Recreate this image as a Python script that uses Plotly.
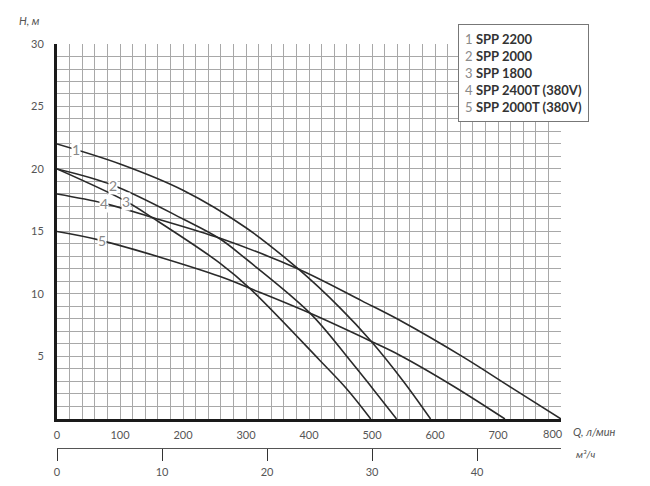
import numpy as np
import plotly.graph_objs as go

# pump curves, Q in l/min, H in m
names = ['SPP 2200', 'SPP 2000', 'SPP 1800', 'SPP 2400T (380V)', 'SPP 2000T (380V)']

q1 = [0, 100, 200, 300, 383, 450, 499, 550, 593]
h1 = [22, 20.4, 18.3, 15.3, 12.0, 8.85, 6.2, 3.0, 0]

q2 = [0, 89, 200, 259, 300, 402, 465, 500, 539]
h2 = [20, 18.7, 16.0, 14.4, 12.8, 8.45, 4.7, 2.5, 0]

q3 = [0, 110, 153, 259, 306, 417, 460, 498]
h3 = [20, 17.4, 16.05, 12.45, 10.45, 4.7, 2.4, 0]

q4 = [0, 75, 153, 259, 383, 484, 544, 645, 720, 800]
h4 = [18, 17.25, 16.1, 14.45, 12.0, 9.45, 7.9, 4.95, 2.55, 0]

q5 = [0, 71, 259, 306, 402, 499, 544, 630, 711]
h5 = [15, 14.27, 11.4, 10.45, 8.45, 6.2, 5.1, 2.6, 0]

curves = [(q1, h1), (q2, h2), (q3, h3), (q4, h4), (q5, h5)]
label_q = [30, 89, 110, 75, 71]

q_ticks = [0, 100, 200, 300, 400, 500, 600, 700]
m3_ticks = [0, 10, 20, 30, 40]
h_ticks = [5, 10, 15, 20, 25, 30]

font = 'Lato'
grey = '#555555'

data = [go.Scatter(x=q, y=h, mode='lines', line=dict(color='#2a2a2a', width=1.6, shape='spline'),
                   name=n, showlegend=False, hoverinfo='skip')
        for (q, h), n in zip(curves, names)]
# invisible trace to set up the m3/h axis
data.append(go.Scatter(x=[0, 48], y=[0, 0], xaxis='x2', yaxis='y', mode='markers',
                       marker=dict(opacity=0), showlegend=False, hoverinfo='skip'))

annotations = []
for i, ((q, h), lq) in enumerate(zip(curves, label_q)):
    annotations.append(dict(x=lq, y=float(np.interp(lq, q, h)), xref='x', yref='y', text=str(i + 1),
                            showarrow=False, bgcolor='white', borderpad=0,
                            font=dict(family=font, size=14, color='#888888')))

legend_text = '<br>'.join("<span style='color:#8a8a8a'>%d</span> <b>%s</b>" % (i + 1, n)
                          for i, n in enumerate(names))
annotations.append(dict(x=0.795, y=1.045, xref='paper', yref='paper', xanchor='left', yanchor='top',
                        text=legend_text, align='left', showarrow=False, bgcolor='white',
                        bordercolor='#777777', borderwidth=1, borderpad=6,
                        font=dict(family=font, size=13, color='#333333')))

annotations += [
    dict(x=800, y=0, xref='x', yref='y', text='800', showarrow=False, yanchor='top', xshift=-8, yshift=-6,
         font=dict(family=font, size=11, color=grey)),
    dict(x=1.02, y=0.14, xref='paper', yref='paper', text='<i>Q, л/мин</i>', showarrow=False,
         xanchor='left', yanchor='top', yshift=-4, font=dict(family=font, size=11, color=grey)),
    dict(x=1.025, y=0.06, xref='paper', yref='paper', text='<i>м³/ч</i>', showarrow=False,
         xanchor='left', yanchor='middle', font=dict(family=font, size=10, color=grey)),
    dict(x=-0.055, y=1.055, xref='paper', yref='paper', text='<i>H, м</i>', showarrow=False,
         xanchor='center', yanchor='middle', font=dict(family=font, size=11, color=grey)),
]

layout = go.Layout(
    width=650, height=486,
    margin=dict(l=49, r=97, t=36, b=14),
    paper_bgcolor='white', plot_bgcolor='white',
    font=dict(family=font, size=11, color=grey),
    xaxis=dict(range=[0, 800], tickvals=q_ticks, showgrid=True, gridcolor='#a8a8a8', gridwidth=1,
               minor=dict(dtick=20, showgrid=True, gridcolor='#a8a8a8', gridwidth=1),
               zeroline=False, showline=True, linecolor='#1a1a1a', linewidth=3,
               ticks='', ticklabelstandoff=4, anchor='y', automargin=False),
    yaxis=dict(range=[0, 30], domain=[0.14, 1], tickvals=h_ticks, showgrid=True, gridcolor='#a8a8a8',
               gridwidth=1, minor=dict(dtick=1, showgrid=True, gridcolor='#a8a8a8', gridwidth=1),
               zeroline=False, showline=True, linecolor='#1a1a1a', linewidth=3,
               ticks='', ticklabelstandoff=8, automargin=False),
    xaxis2=dict(range=[0, 48], tickvals=m3_ticks, anchor='free', position=0.073, overlaying='x',
                side='bottom', showgrid=False, zeroline=False, showline=True, linecolor='#555555',
                linewidth=1, ticks='outside', ticklen=12, tickcolor='#333333', tickwidth=1,
                ticklabelstandoff=2, automargin=False),
    annotations=annotations,
)

fig = go.Figure(data=data, layout=layout)
fig.write_html('out.html')
